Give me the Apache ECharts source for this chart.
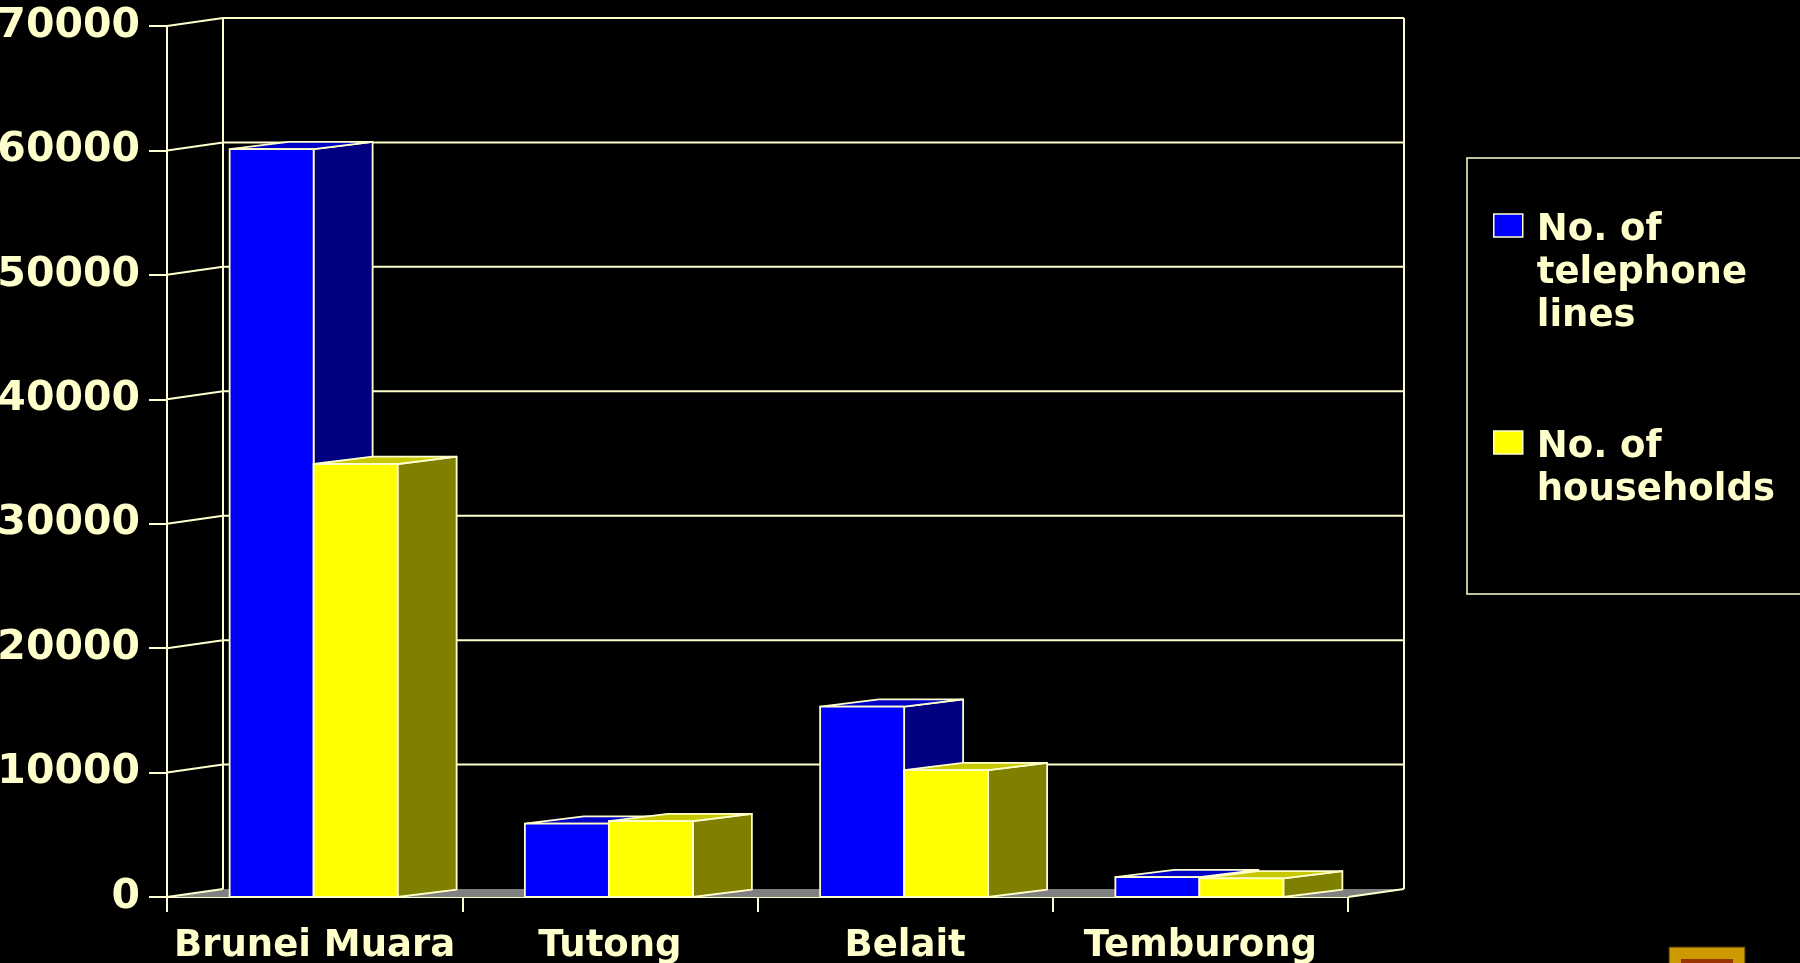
<!DOCTYPE html>
<html>
<head>
<meta charset="utf-8">
<title>Telephone lines and households by district</title>
<script src="https://cdn.jsdelivr.net/npm/echarts@6/dist/echarts.min.js"></script>
<style>
html, body { margin: 0; padding: 0; background: #000; }
#chart { width: 1800px; height: 963px; }
</style>
</head>
<body>
<div id="chart"></div>
<script>
var categories = ['Brunei Muara', 'Tutong', 'Belait', 'Temburong'];
var telephoneLines = [60100, 5900, 15300, 1600];
var households = [34800, 6100, 10200, 1500];
var yTicks = [0, 10000, 20000, 30000, 40000, 50000, 60000, 70000];
var seriesNames = ['No. of\ntelephone\nlines', 'No. of\nhouseholds'];

// look of the fake 3d box
var EDGE = '#FFFFCC';
var WALL_DX = 56, WALL_DY = -8;
var BAR_DX = 59, BAR_DY = -7.3;
var BAR_RATIO = 0.2845;
var FONT = 'DejaVu Sans';
var LINE_H = 43;
var TEXT_DROP = 4.6; // first legend line sits a bit below swatch centre

function wallItem(params, api) {
	var cs = params.coordSys;
	var v = api.value(1);
	var y = api.coord([0, v])[1];
	var yTop = api.coord([0, yTicks[yTicks.length - 1]])[1];
	var x = cs.x, x2 = cs.x + cs.width;
	var line = { stroke: EDGE, lineWidth: 2 };
	var kids = [];
	if (v === 0) {
		kids.push({ type: 'polygon', shape: { points: [[x, y], [x + WALL_DX, y + WALL_DY], [x2 + WALL_DX, y + WALL_DY], [x2, y]] }, style: { fill: '#808080' } });
		kids.push({ type: 'line', shape: { x1: x2, y1: y, x2: x2 + WALL_DX, y2: y + WALL_DY }, style: line });
		kids.push({ type: 'line', shape: { x1: x + WALL_DX, y1: y + WALL_DY, x2: x + WALL_DX, y2: yTop + WALL_DY }, style: line });
		kids.push({ type: 'line', shape: { x1: x2 + WALL_DX, y1: y + WALL_DY, x2: x2 + WALL_DX, y2: yTop + WALL_DY }, style: line });
	} else {
		kids.push({ type: 'line', shape: { x1: x + WALL_DX, y1: y + WALL_DY, x2: x2 + WALL_DX, y2: y + WALL_DY }, style: line });
	}
	kids.push({ type: 'line', shape: { x1: x, y1: y, x2: x + WALL_DX, y2: y + WALL_DY }, style: line });
	return { type: 'group', children: kids };
}

function barItem(slot, front, side, top) {
	return function (params, api) {
		var idx = api.value(0);
		var base = api.coord([idx, 0]);
		var head = api.coord([idx, api.value(1)]);
		var w = api.size([1, 0])[0] * BAR_RATIO;
		var x0 = base[0] - w + slot * w - 1;
		var x1 = x0 + w;
		var yb = base[1], yt = head[1];
		function st(fill) { return { fill: fill, stroke: EDGE, lineWidth: 1.8, lineJoin: 'round' }; }
		return {
			type: 'group',
			children: [
				{ type: 'polygon', shape: { points: [[x1, yt], [x1 + BAR_DX, yt + BAR_DY], [x1 + BAR_DX, yb + BAR_DY], [x1, yb]] }, style: st(side) },
				{ type: 'polygon', shape: { points: [[x0, yt], [x0 + BAR_DX, yt + BAR_DY], [x1 + BAR_DX, yt + BAR_DY], [x1, yt]] }, style: st(top) },
				{ type: 'rect', shape: { x: x0, y: yt, width: w, height: yb - yt }, style: st(front) }
			]
		};
	};
}

function pairs(arr) {
	return arr.map(function (v, i) { return [i, v]; });
}

// legend text block is centred on the swatch; pad it with blank lines
// on top so the first line lines up with the swatch instead
function legendLabel(name) {
	var lines = name.split('\n');
	var out = [];
	for (var i = 1; i < lines.length; i++) out.push('{gap| }');
	lines.forEach(function (l) { out.push('{t|' + l + '}'); });
	return out.join('\n');
}

function legendStyle(name) {
	var k = name.split('\n').length - 1;
	return {
		color: EDGE, fontFamily: FONT, fontWeight: 'bold', fontSize: 37, lineHeight: LINE_H,
		rich: {
			gap: { fontSize: 10, lineHeight: LINE_H + 2 * TEXT_DROP / k },
			t: { color: EDGE, fontFamily: FONT, fontWeight: 'bold', fontSize: 37, lineHeight: LINE_H, padding: [0, 0, 0, 9] }
		}
	};
}

var myChart = echarts.init(document.getElementById('chart'));
var option = {
	backgroundColor: '#000',
	animation: false,
	grid: { left: 167, top: 26, width: 1181, height: 871, containLabel: false, outerBoundsMode: 'none' },
	xAxis: {
		type: 'category',
		data: categories,
		axisLine: { lineStyle: { color: EDGE, width: 2 } },
		axisTick: { show: true, length: 15, lineStyle: { color: EDGE, width: 2 } },
		axisLabel: { interval: 0, color: EDGE, fontFamily: FONT, fontWeight: 'bold', fontSize: 37, lineHeight: 44, margin: 27 }
	},
	yAxis: {
		type: 'value',
		min: 0,
		max: 70000,
		interval: 10000,
		axisLine: { show: true, lineStyle: { color: EDGE, width: 2 } },
		axisTick: { show: true, length: 18, lineStyle: { color: EDGE, width: 2 } },
		axisLabel: { color: EDGE, fontFamily: FONT, fontWeight: 'bold', fontSize: 41, margin: 27, formatter: function (v) { return String(v); } },
		splitLine: { show: false }
	},
	legend: [
		{
			data: [seriesNames[0]], left: 1493, top: 113.4, padding: 0, orient: 'vertical',
			itemWidth: 29, itemHeight: 23, selectedMode: false, icon: 'rect',
			itemStyle: { color: '#0000FF', borderColor: EDGE, borderWidth: 1.5 },
			formatter: legendLabel, textStyle: legendStyle(seriesNames[0])
		},
		{
			data: [seriesNames[1]], left: 1493, top: 373.4, padding: 0, orient: 'vertical',
			itemWidth: 29, itemHeight: 23, selectedMode: false, icon: 'rect',
			itemStyle: { color: '#FFFF00', borderColor: EDGE, borderWidth: 1.5 },
			formatter: legendLabel, textStyle: legendStyle(seriesNames[1])
		}
	],
	graphic: [
		{ type: 'rect', shape: { x: 1467, y: 158, width: 400, height: 436 }, style: { fill: 'none', stroke: EDGE, lineWidth: 1.5 } },
		{ type: 'rect', shape: { x: 1669, y: 947, width: 76, height: 30 }, style: { fill: '#CC9900', stroke: '#3a2c00', lineWidth: 1 } },
		{ type: 'rect', shape: { x: 1681, y: 959, width: 52, height: 20 }, style: { fill: '#993300' } }
	],
	series: [
		{
			name: 'walls', type: 'custom', z: 1, silent: true,
			renderItem: wallItem,
			data: pairs(yTicks).map(function (p) { return [0, p[1]]; })
		},
		{
			name: seriesNames[0], type: 'custom', z: 3,
			itemStyle: { color: '#0000FF' },
			renderItem: barItem(0, '#0000FF', '#000080', '#0000C8'),
			encode: { x: 0, y: 1 },
			data: pairs(telephoneLines)
		},
		{
			name: seriesNames[1], type: 'custom', z: 4,
			itemStyle: { color: '#FFFF00' },
			renderItem: barItem(1, '#FFFF00', '#808000', '#C8C800'),
			encode: { x: 0, y: 1 },
			data: pairs(households)
		}
	]
};
myChart.setOption(option);
</script>
</body>
</html>
